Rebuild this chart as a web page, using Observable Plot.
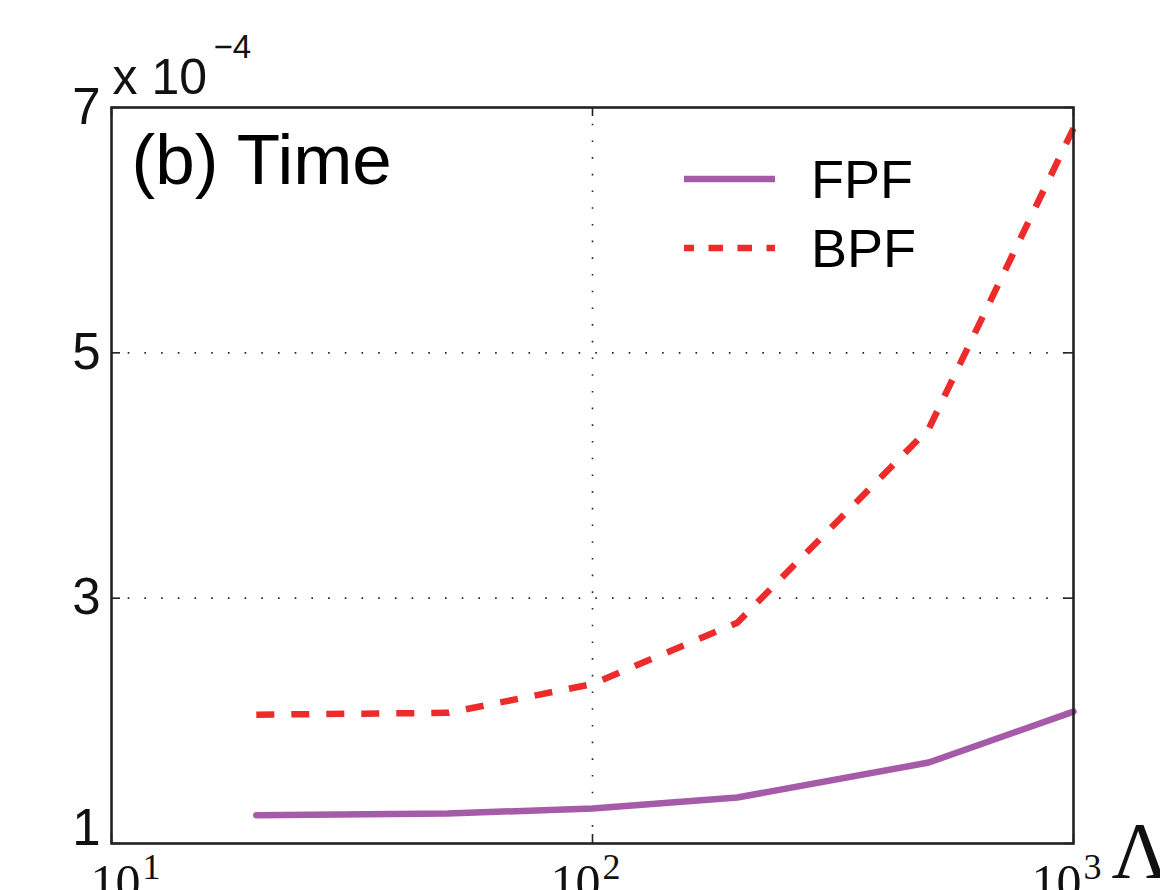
<!DOCTYPE html>
<html>
<head>
<meta charset="utf-8">
<script src="https://cdn.jsdelivr.net/npm/d3@7"></script>
<script src="https://cdn.jsdelivr.net/npm/@observablehq/plot@0.6"></script>
<style>
  html, body { margin: 0; padding: 0; background: #fff; overflow: hidden; }
  #chart svg { overflow: hidden; display: block; }
</style>
</head>
<body>
<div id="chart"></div>
<script>
// Data (time values in units of 1e-4)
const lambdaValues = [20, 50, 100, 200, 500, 1000];
const fpfTime = [1.23, 1.245, 1.285, 1.375, 1.66, 2.075];
const bpfTime = [2.05, 2.065, 2.30, 2.80, 4.38, 6.83];
const seriesNames = ["FPF", "BPF"];
const yTicks = [1, 3, 5, 7];
const xTicks = [10, 100, 1000];
const xTickExponents = ["1", "2", "3"];
const yExponentLabel = "−4";
const panelTitle = "(b) Time";
const xLabel = "Λ";

const fpf = lambdaValues.map((x, i) => ({x, y: fpfTime[i]}));
const bpf = lambdaValues.map((x, i) => ({x, y: bpfTime[i]}));
const xt = xTicks.map((v, i) => ({v, e: xTickExponents[i]}));
const xtFirst = xt.slice(0, 1);
const xtRest = xt.slice(1);

const purple = "#a65ba8";
const red = "#ee2b2b";
const sans = "Liberation Sans, Arial, sans-serif";
const serif = "Liberation Serif, Times New Roman, serif";

function legendMark(index, scales, values, dims) {
  const g = d3.create("svg:g");
  const x0 = dims.marginLeft;
  const y0 = dims.marginTop;
  const items = [
    {name: seriesNames[0], color: purple, dash: null, dy: 72},
    {name: seriesNames[1], color: red, dash: "14.5,14.5", dy: 141}
  ];
  for (const it of items) {
    g.append("line")
      .attr("x1", x0 + 573).attr("x2", x0 + 664)
      .attr("y1", y0 + it.dy).attr("y2", y0 + it.dy)
      .attr("stroke", it.color).attr("stroke-width", 6.5)
      .attr("stroke-dasharray", it.dash)
      .attr("stroke-dashoffset", it.dash ? 4.5 : null);
    g.append("text")
      .attr("x", x0 + 700).attr("y", y0 + it.dy + 19)
      .attr("text-anchor", "start")
      .attr("font-family", sans).attr("font-size", 54)
      .attr("fill", "#000")
      .text(it.name);
  }
  return g.node();
}

const tickLabel10 = (data, dx) => Plot.text(data, {x: "v", text: () => "10", frameAnchor: "bottom", textAnchor: "end", lineAnchor: "top", dx, dy: 20, fontSize: 50, fontFamily: serif, fill: "#111"});
const tickLabelExp = (data, dx) => Plot.text(data, {x: "v", text: "e", frameAnchor: "bottom", textAnchor: "start", lineAnchor: "top", dx, dy: 10, fontSize: 36, fontFamily: serif, fill: "#111"});

const chart = Plot.plot({
  width: 1160,
  height: 890,
  marginLeft: 111,
  marginRight: 87,
  marginTop: 107,
  marginBottom: 47,
  style: {fontFamily: sans, background: "#fff", overflow: "hidden"},
  x: {type: "log", domain: [10, 1000], axis: null},
  y: {domain: [1, 7], axis: null},
  marks: [
    // dotted grid
    Plot.ruleY([3, 5], {stroke: "#222", strokeWidth: 1.6, strokeDasharray: "1.6,15.1"}),
    Plot.ruleX([100], {stroke: "#222", strokeWidth: 1.6, strokeDasharray: "1.6,15.1"}),
    // tick marks inside the box
    Plot.tickY(yTicks, {y: d => d, stroke: "#222", strokeWidth: 1.6, insetRight: 953}),
    Plot.tickY(yTicks, {y: d => d, stroke: "#222", strokeWidth: 1.6, insetLeft: 953}),
    Plot.tickX(xTicks, {x: d => d, stroke: "#222", strokeWidth: 1.6, insetTop: 727}),
    Plot.tickX(xTicks, {x: d => d, stroke: "#222", strokeWidth: 1.6, insetBottom: 727}),
    // series
    Plot.line(fpf, {x: "x", y: "y", stroke: purple, strokeWidth: 6.5, strokeLinejoin: "round"}),
    Plot.line(bpf, {x: "x", y: "y", stroke: red, strokeWidth: 6.5, strokeDasharray: "18,17", strokeLinecap: "butt"}),
    // box
    Plot.frame({stroke: "#222", strokeWidth: 2.6}),
    // y tick labels
    Plot.text(yTicks.filter(d => d > 1), {y: d => d, text: d => String(d), frameAnchor: "left", textAnchor: "end", dx: -11, fontSize: 51, fill: "#111"}),
    Plot.text(yTicks.filter(d => d === 1), {y: d => d, text: d => String(d), frameAnchor: "left", textAnchor: "end", lineAnchor: "bottom", dx: -11, dy: 1, fontSize: 51, fill: "#111"}),
    // exponent multiplier
    Plot.text(["x 10"], {text: d => d, frameAnchor: "top-left", textAnchor: "start", lineAnchor: "bottom", dx: 1, dy: -14, fontSize: 50, fill: "#111"}),
    Plot.text([yExponentLabel], {text: d => d, frameAnchor: "top-left", textAnchor: "start", lineAnchor: "bottom", dx: 102, dy: -50, fontSize: 33, fill: "#111"}),
    // x tick labels (serif, 10^n)
    tickLabel10(xtFirst, 29),
    tickLabelExp(xtFirst, 31),
    tickLabel10(xtRest, 8),
    tickLabelExp(xtRest, 10),
    // x label
    Plot.text([xLabel], {text: d => d, frameAnchor: "bottom-right", textAnchor: "start", lineAnchor: "top", dx: 38, dy: -22, fontSize: 80, fontFamily: serif, fill: "#111"}),
    // panel title
    Plot.text([panelTitle], {text: d => d, frameAnchor: "top-left", textAnchor: "start", lineAnchor: "top", dx: 20, dy: 26, fontSize: 71, fill: "#000"}),
    legendMark
  ]
});
document.getElementById("chart").appendChild(chart);
</script>
</body>
</html>
